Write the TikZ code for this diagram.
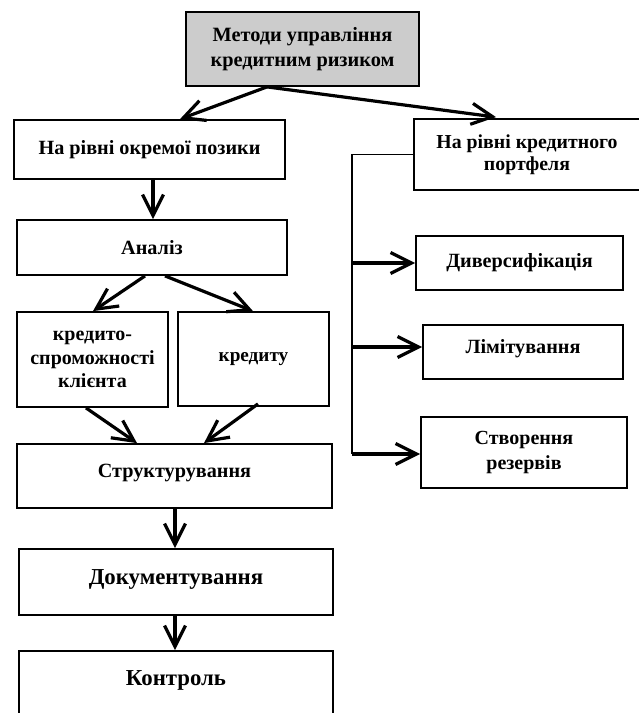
\documentclass[tikz,border=0pt]{standalone}
\usepackage{fontspec}
\setmainfont{Liberation Serif}
\usetikzlibrary{arrows.meta}
\newcommand\upby[2]{\raisebox{#1}[\height][\depth]{#2}}
\begin{document}
\begin{tikzpicture}[x=1pt,y=-1pt,
  box/.style={draw, line width=1.8pt, inner sep=0pt, align=center,
    font=\bfseries\fontsize{20.2}{24}\selectfont},
  bigtext/.style={font=\bfseries\fontsize{22.8}{27}\selectfont},
  arr/.style={line width=3.2pt, -{Straight Barb[length=21pt,width=21pt]}},
  bus/.style={line width=1.6pt}]
\clip (0,0) rectangle (639,713);
\node[box, fill=gray!40, minimum width=233pt, minimum height=74pt,
  font=\bfseries\fontsize{20.3}{25.5}\selectfont] (top) at (302.5,49)
  {Методи управління\\кредитним ризиком};
\node[box, minimum width=271pt, minimum height=59pt] (lev1) at (149.5,149.5) {На рівні окремої позики};
\node[box, minimum width=226pt, minimum height=71pt,
  font=\bfseries\fontsize{19.8}{22}\selectfont] (port) at (527,154.5)
  {На рівні кредитного\\портфеля};
\node[box, minimum width=270pt, minimum height=55pt] (anal) at (152,247.5) {Аналіз};
\node[box, minimum width=151pt, minimum height=95pt,
  font=\bfseries\fontsize{20}{23.3}\selectfont] (kr1) at (92.5,359.5) {кредито-\\спроможності\\клієнта};
\node[box, minimum width=151pt, minimum height=94pt, font=\bfseries\fontsize{19.2}{24}\selectfont] (kr2) at (253.5,359) {кредиту};
\node[box, minimum width=315pt, minimum height=64pt] (str) at (174.5,476) {\upby{3pt}{Структурування}};
\node[box, bigtext, minimum width=314pt, minimum height=66pt] (doc) at (176,582) {\upby{3pt}{Документування}};
\node[box, bigtext, minimum width=314pt, minimum height=109pt] (ctl) at (176,705.5) {\upby{25pt}{Контроль}};
\node[box, minimum width=207pt, minimum height=54pt] (div) at (519.5,263) {Диверсифікація};
\node[box, minimum width=200pt, minimum height=54pt] (lim) at (523,352) {\upby{3pt}{Лімітування}};
\node[box, minimum width=206pt, minimum height=71pt,
  font=\bfseries\fontsize{20}{25}\selectfont] (rez) at (524,452.5) {Створення\\резервів};

\draw[arr] ([xshift=-35.5pt]top.south) -- ([xshift=30.5pt]lev1.north);
\draw[arr] ([xshift=-35.5pt]top.south) -- ([xshift=-31pt,yshift=1pt]port.north);
\draw[arr] ([xshift=3.5pt]lev1.south) -- ([xshift=3.5pt]lev1.south |- anal.north);
\draw[arr] ([xshift=-7pt]anal.south) -- ([xshift=0.5pt]kr1.north);
\draw[arr] ([xshift=13pt]anal.south) -- ([xshift=-0.5pt]kr2.north);
\draw[arr] ([xshift=-6.5pt]kr1.south) -- ([xshift=-37.5pt]str.north);
\draw[arr] ([xshift=4.5pt,yshift=3pt]kr2.south) -- ([xshift=29.5pt]str.north);
\draw[arr] ([xshift=0.5pt]str.south) -- ([xshift=0.5pt]str.south |- doc.north);
\draw[arr] ([xshift=-1pt]doc.south) -- ([xshift=-1pt]doc.south |- ctl.north);
\coordinate (b0) at ([xshift=-61pt]port.west);
\coordinate (lw) at ([yshift=5pt]lim.west);
\coordinate (rw) at ([yshift=-1.5pt]rez.west);
\coordinate (b3) at (b0 |- rw);
\draw[bus] (port.west) -- (b0) -- (b3);
\draw[arr] (b0 |- div.west) -- (div.west);
\draw[arr] (b0 |- lw) -- (lw);
\draw[arr] (b3) -- (rw);
\end{tikzpicture}
\end{document}
